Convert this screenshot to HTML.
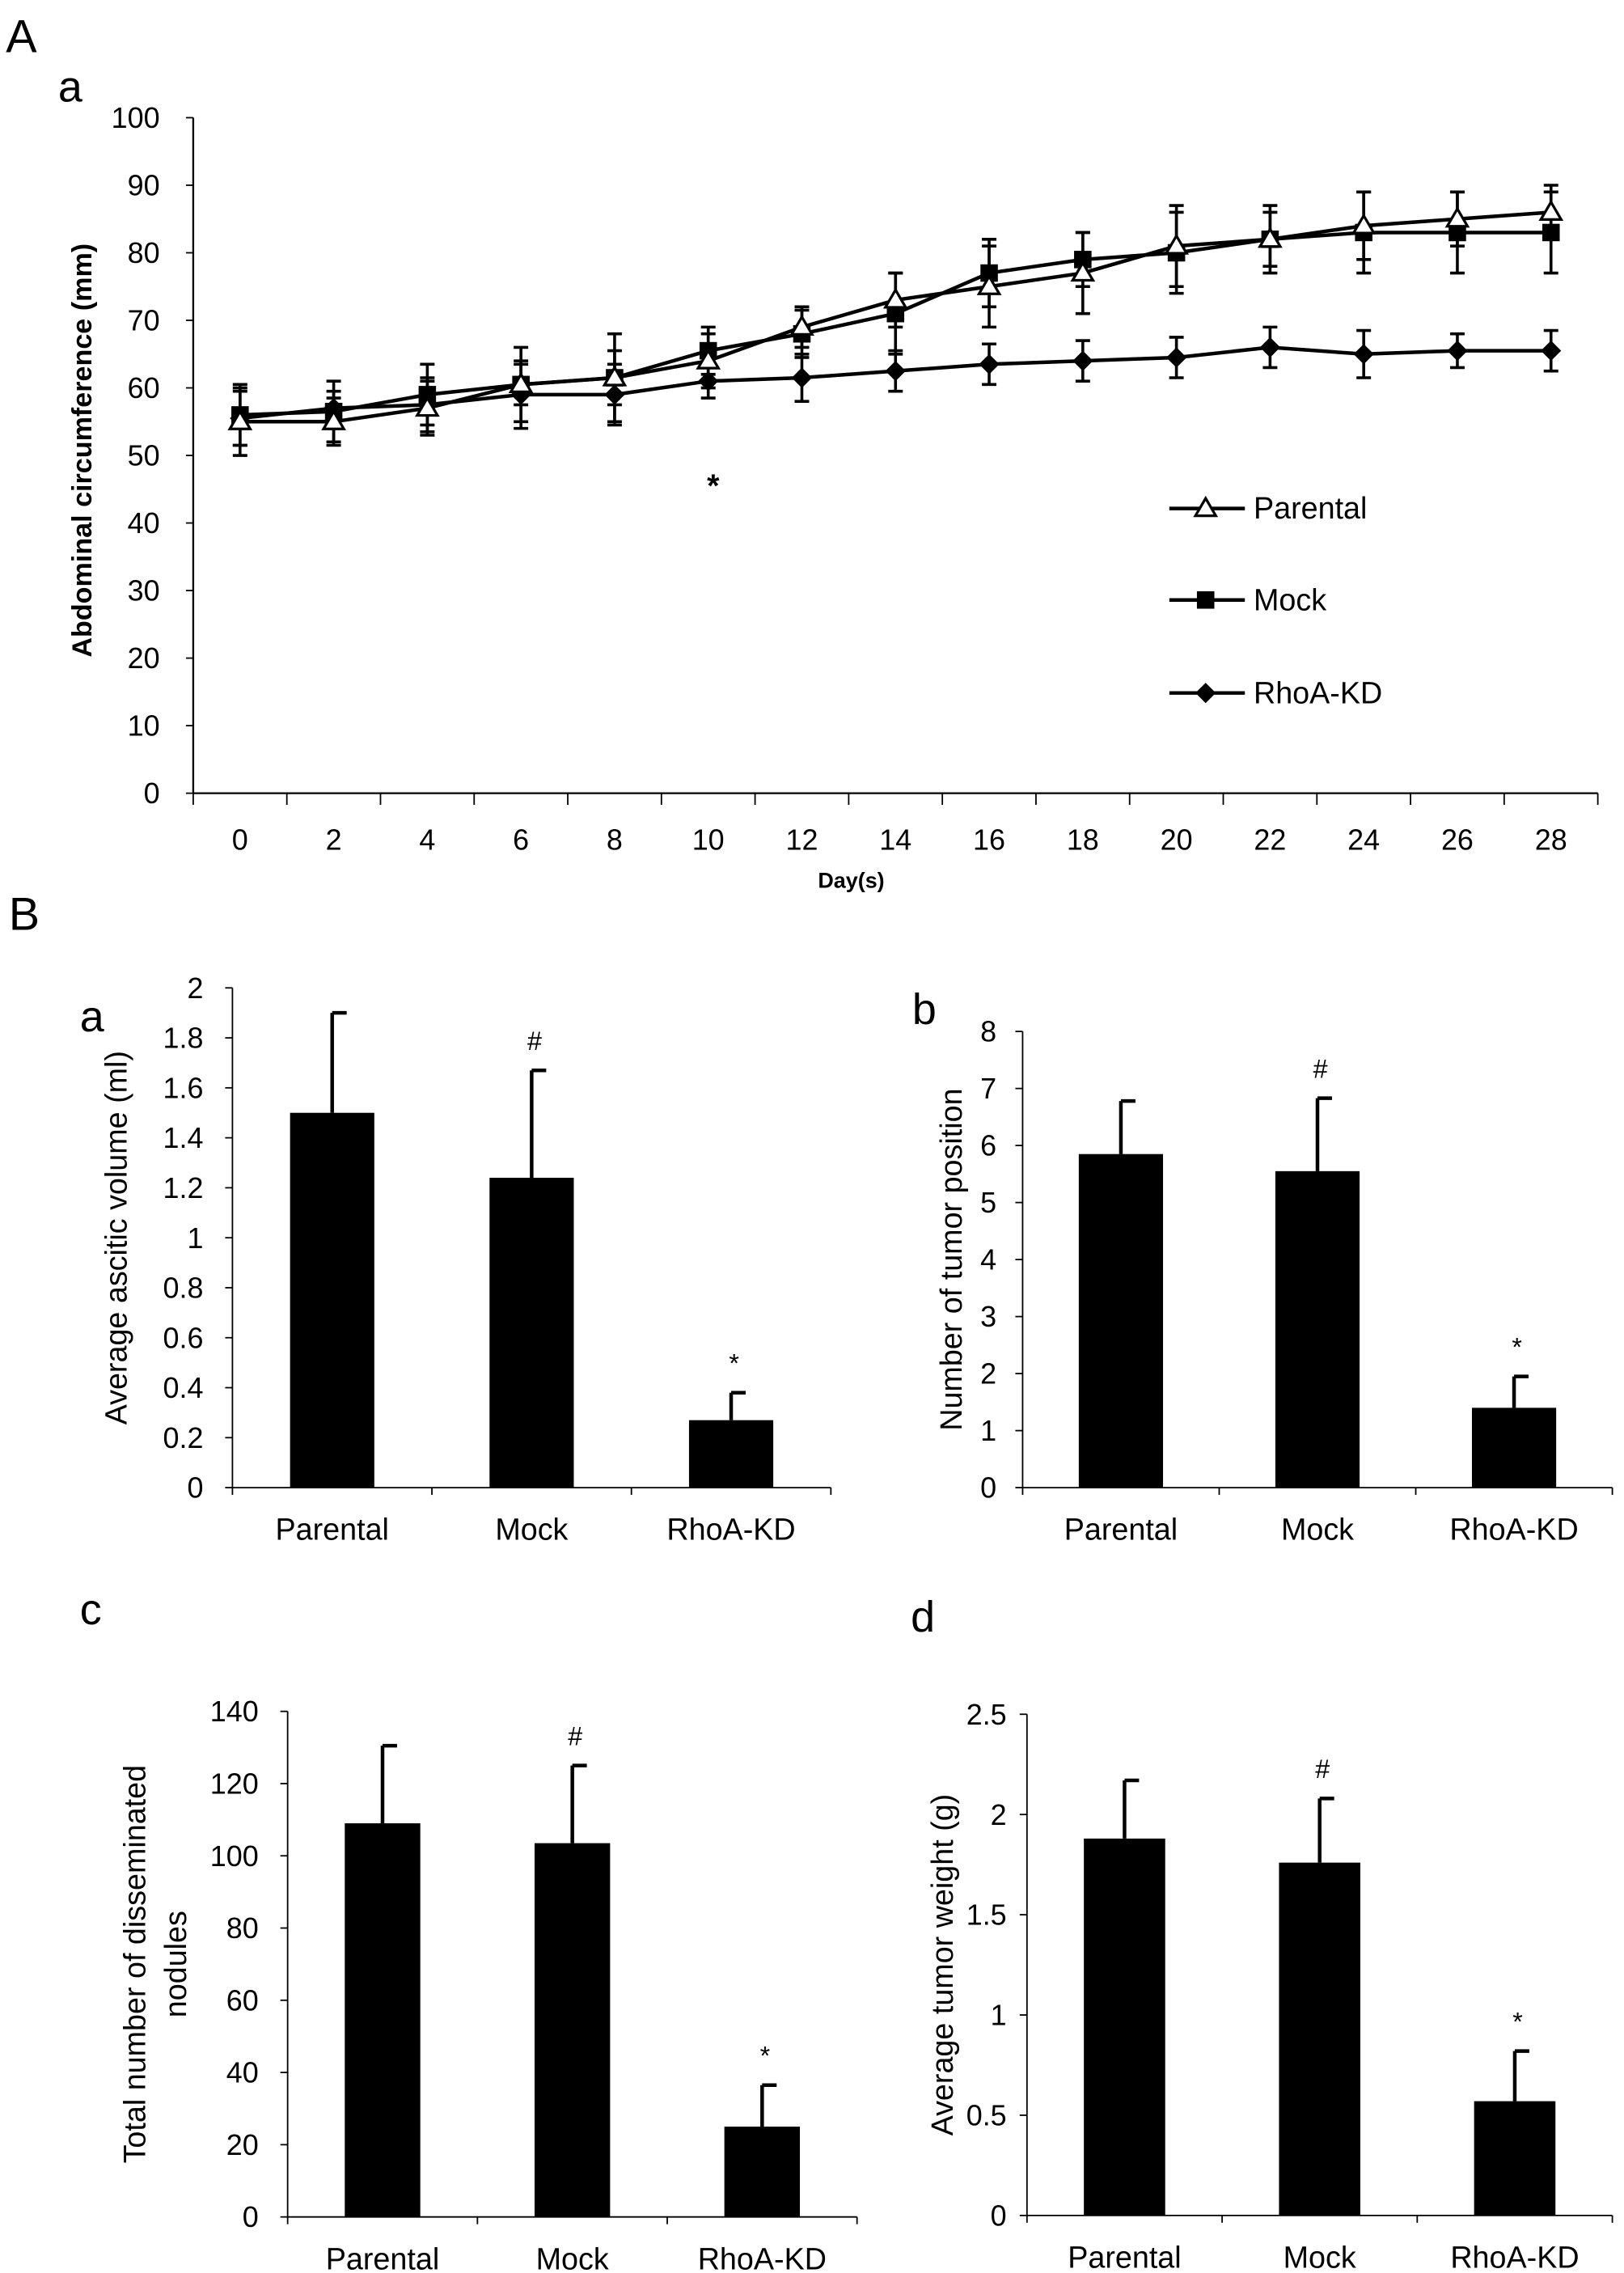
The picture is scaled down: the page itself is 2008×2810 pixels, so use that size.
<!DOCTYPE html>
<html><head><meta charset="utf-8">
<style>
html,body{margin:0;padding:0;background:#fff;}
svg{display:block;}
text{font-family:"Liberation Sans",sans-serif;fill:#000;}
</style></head>
<body>
<svg id="fig" width="2008" height="2810" viewBox="0 0 1118 1564.6" xmlns="http://www.w3.org/2000/svg">
</svg>
<script>
// ---- Panel A data ----
const days = [0,2,4,6,8,10,12,14,16,18,20,22,24,26,28];
const parentalVals = [55,55,57,60.5,61.5,64,69,73,75,77,81,82,84,85,86];
const parentalErr = [5,3.5,4,3,4,4,3,4,6,6,6,4,5,4,4];
const mockVals = [56,56.5,59,60.5,61.5,65.5,68,71,77,79,80,82,83,83,83];
const mockErr = [4.5,4.5,4.5,5.5,6.5,3.5,3.5,6,5,4,6,5,6,6,6];
const rhoaVals = [55.5,57,57.5,59,59,61,61.5,62.5,63.5,64,64.5,66,65,65.5,65.5];
const rhoaErr = [4,2.5,4,5,4.5,2.5,3.5,3,3,3,3,3,3.5,2.5,3];
const yTicksA = [0,10,20,30,40,50,60,70,80,90,100];
// ---- Panel B data ----
const groups = ["Parental","Mock","RhoA-KD"];
const ascitesVals = [1.5,1.24,0.27];
const ascitesErr = [0.4,0.43,0.11];
const ascitesTicks = [0,0.2,0.4,0.6,0.8,1,1.2,1.4,1.6,1.8,2];
const positionVals = [5.85,5.55,1.4];
const positionErr = [0.93,1.28,0.55];
const positionTicks = [0,1,2,3,4,5,6,7,8];
const noduleVals = [109,103.5,25];
const noduleErr = [21.5,21.5,11.5];
const noduleTicks = [0,20,40,60,80,100,120,140];
const weightVals = [1.88,1.76,0.57];
const weightErr = [0.29,0.32,0.25];
const weightTicks = [0,0.5,1,1.5,2,2.5];

const NS="http://www.w3.org/2000/svg";
const svg=document.getElementById('fig');
function mk(tag,attrs,parent,txt){const e=document.createElementNS(NS,tag);for(const k in attrs)e.setAttribute(k,attrs[k]);if(txt!==undefined)e.textContent=txt;(parent||svg).appendChild(e);return e;}

// ---------- Panel A ----------
const A={x0:133,x1:1100,yTop:81,yBot:546,ymax:100};
const ayA=v=>A.yBot-(v/A.ymax)*(A.yBot-A.yTop);
const step=(A.x1-A.x0)/15;
const axA=i=>A.x0+step*(i+0.5);
let t;
t=mk('text',{x:4,y:36,'font-size':32});t.textContent='A';


t=mk('text',{x:40,y:70,'font-size':30});t.textContent='a';


const gA=mk('g',{});


let ax=mk('line',{x1:A.x0,y1:A.yTop,x2:A.x0,y2:A.yBot,stroke:'#000','stroke-width':1.3},gA);


ax=mk('line',{x1:A.x0,y1:A.yBot,x2:A.x1,y2:A.yBot,stroke:'#000','stroke-width':1.3},gA);


yTicksA.forEach(v=>{
  mk('line',{x1:A.x0-5,y1:ayA(v),x2:A.x0,y2:ayA(v),stroke:'#000','stroke-width':1},gA);
  const l=mk('text',{x:110,y:ayA(v)+7,'font-size':20,'text-anchor':'end'},gA,String(v));
  
  
});
for(let i=0;i<=15;i++){mk('line',{x1:A.x0+step*i,y1:A.yBot,x2:A.x0+step*i,y2:A.yBot+8,stroke:'#000','stroke-width':1},gA);}
days.forEach((d,i)=>{
  const l=mk('text',{x:axA(i),y:585,'font-size':20,'text-anchor':'middle'},gA,String(d));
  
  
});
t=mk('text',{x:586,y:611,'font-size':15,'font-weight':'bold','text-anchor':'middle'},gA,'Day(s)');


t=mk('text',{x:0,y:0,'font-size':19,'font-weight':'bold','text-anchor':'middle',transform:'translate(63,310) rotate(-90)'},gA,'Abdominal circumference (mm)');


t=mk('text',{x:491,y:342,'font-size':22,'font-weight':'bold','text-anchor':'middle'},gA,'*');



function marker(type,x,y,g){
  if(type==='tri')return mk('polygon',{points:`${x},${y-7} ${x-7},${y+5} ${x+7},${y+5}`,fill:'#fff',stroke:'#000','stroke-width':1.8},g);
  if(type==='sq')return mk('rect',{x:x-6,y:y-6,width:12,height:12,fill:'#000'},g);
  return mk('polygon',{points:`${x},${y-7} ${x+7},${y} ${x},${y+7} ${x-7},${y}`,fill:'#000'},g);
}
function series(name,vals,errs,type){
  const g=mk('g',{},gA);
  
  
  vals.forEach((v,i)=>{
    const x=axA(i);
    mk('line',{x1:x,y1:ayA(v-errs[i]),x2:x,y2:ayA(v+errs[i]),stroke:'#000','stroke-width':2},g);
    mk('line',{x1:x-5,y1:ayA(v-errs[i]),x2:x+5,y2:ayA(v-errs[i]),stroke:'#000','stroke-width':2},g);
    mk('line',{x1:x-5,y1:ayA(v+errs[i]),x2:x+5,y2:ayA(v+errs[i]),stroke:'#000','stroke-width':2},g);
  });
  mk('polyline',{points:vals.map((v,i)=>axA(i)+','+ayA(v)).join(' '),fill:'none',stroke:'#000','stroke-width':2.5},g);
  vals.forEach((v,i)=>{const m=marker(type,axA(i),ayA(v),g);
    
    });
}
series('rhoa-kd',rhoaVals,rhoaErr,'dia');
series('mock',mockVals,mockErr,'sq');
series('parental',parentalVals,parentalErr,'tri');
[['Parental','tri',350],['Mock','sq',413],['RhoA-KD','dia',477]].forEach(([n,ty,y])=>{
  const g=mk('g',{},gA);
  
  
  mk('line',{x1:805,y1:y,x2:857,y2:y,stroke:'#000','stroke-width':2.5},g);
  marker(ty,830,y,g);
  mk('text',{x:863,y:y+7,'font-size':21},g,n);
});

// ---------- Panel B ----------
t=mk('text',{x:6,y:640,'font-size':32});t.textContent='B';


function bar(cfg,vals,errs,ticks){
  const g=mk('g',{});
  
  
  t=mk('text',{x:cfg.lx,y:cfg.ly,'font-size':30},g,cfg.letter);
  
  
  const ymax=ticks[ticks.length-1];
  const ay=v=>cfg.y0-(v/ymax)*(cfg.y0-cfg.yTop);
  mk('line',{x1:cfg.x0,y1:cfg.yTop,x2:cfg.x0,y2:cfg.y0,stroke:'#000','stroke-width':1},g);
  mk('line',{x1:cfg.x0,y1:cfg.y0,x2:cfg.x1,y2:cfg.y0,stroke:'#000','stroke-width':1},g);
  ticks.forEach(v=>{
    mk('line',{x1:cfg.x0-5,y1:ay(v),x2:cfg.x0,y2:ay(v),stroke:'#000','stroke-width':1},g);
    const l=mk('text',{x:cfg.x0-(cfg.lo||20),y:ay(v)+7,'font-size':20,'text-anchor':'end'},g,String(v));
    
    
  });
  const w=(cfg.x1-cfg.x0)/3;
  for(let i=0;i<=3;i++)mk('line',{x1:cfg.x0+w*i,y1:cfg.y0,x2:cfg.x0+w*i,y2:cfg.y0+5,stroke:'#000','stroke-width':1},g);
  vals.forEach((v,i)=>{
    const cx=cfg.x0+w*(i+0.5), bw=cfg.bw;
    const r=mk('rect',{x:cx-bw/2,y:ay(v),width:bw,height:cfg.y0-ay(v),fill:'#000'},g);
    
    
    const top=ay(v+errs[i]);
    mk('line',{x1:cx,y1:ay(v),x2:cx,y2:top,stroke:'#000','stroke-width':2.5},g);
    mk('line',{x1:cx,y1:top,x2:cx+10,y2:top,stroke:'#000','stroke-width':2.5},g);
    const l=mk('text',{x:cx,y:cfg.y0+36,'font-size':21,'text-anchor':'middle'},g,groups[i]);
    
    
    if(i>0){const s=mk('text',{x:cx+2,y:top-14,'font-size':18,'text-anchor':'middle'},g,i===1?'#':'*');
      
      }
  });
  const lines=cfg.title;
  lines.forEach((ln,k)=>{
    const tt=mk('text',{x:0,y:0,'font-size':21,'text-anchor':'middle',transform:`translate(${cfg.tx+k*28},${(cfg.yTop+cfg.y0)/2}) rotate(-90)`},g,ln);
    
    
  });
}
bar({name:'bar-chart-ascitic-volume',letter:'a',lx:55,ly:710,x0:160,x1:572,yTop:680,y0:1024,bw:58,tx:87,title:['Average ascitic volume (ml)']},ascitesVals,ascitesErr,ascitesTicks);
bar({name:'bar-chart-tumor-position',letter:'b',lx:628,ly:705,x0:704,x1:1110,yTop:710,y0:1024,bw:58,tx:662,lo:18,title:['Number of tumor position']},positionVals,positionErr,positionTicks);
bar({name:'bar-chart-nodules',letter:'c',lx:55,ly:1118,x0:198,x1:590,yTop:1178,y0:1526,bw:52,tx:100,title:['Total number of disseminated','nodules']},noduleVals,noduleErr,noduleTicks);
bar({name:'bar-chart-tumor-weight',letter:'d',lx:627,ly:1123,x0:707,x1:1110,yTop:1180,y0:1525,bw:56,tx:656,lo:14,title:['Average tumor weight (g)']},weightVals,weightErr,weightTicks);
</script>
</body></html>
